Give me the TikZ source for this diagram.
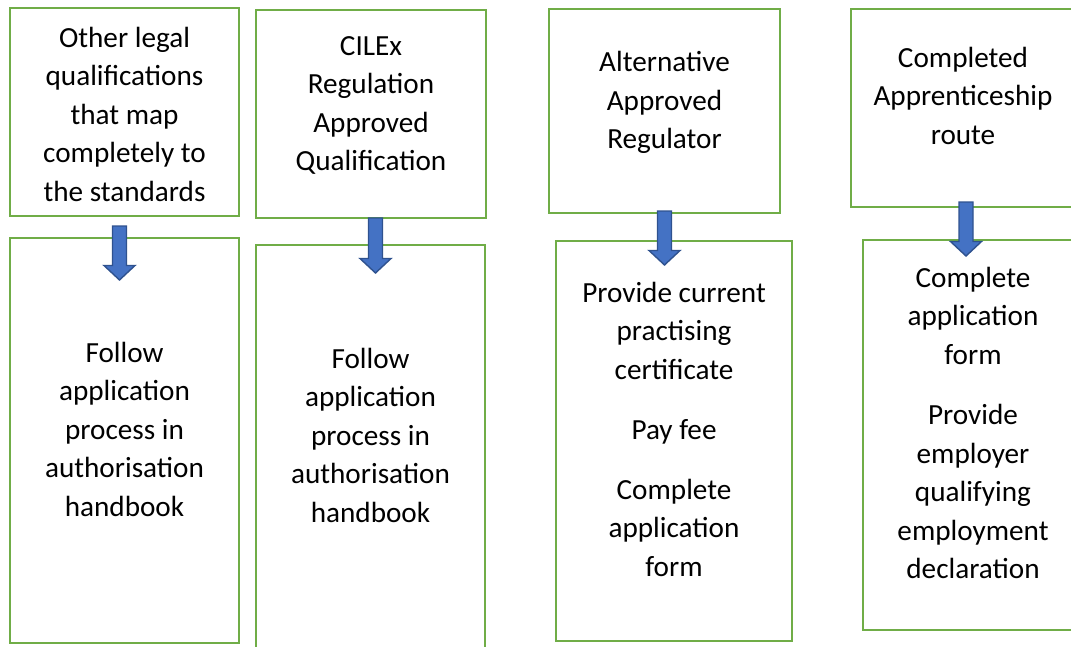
\documentclass[tikz,border=0pt]{standalone}
\usepackage{fontspec}
\setmainfont{Carlito}
\definecolor{boxgreen}{HTML}{70AD47}
\definecolor{arrowblue}{HTML}{4472C4}
\definecolor{arrowedge}{HTML}{2F528F}
\newcommand{\firststrut}{\rule{0pt}{30pt}}
% block arrow: centre x, top y, tip y
\newcommand{\blockarrow}[3]{%
  \draw[barrow] (#1-7,#2) -- (#1+7,#2) -- (#1+7,#3-14.5) -- (#1+15.5,#3-14.5)
    -- (#1,#3) -- (#1-15.5,#3-14.5) -- (#1-7,#3-14.5) -- cycle;}
\tikzset{
  box/.style={draw=boxgreen, line width=2.5pt, fill=white, inner sep=0pt, outer sep=0pt},
  label/.style={anchor=north, align=center, inner sep=0pt, text=black,
    font=\fontsize{29.2pt}{38.5pt}\selectfont},
  barrow/.style={fill=arrowblue, draw=arrowedge, line width=1.4pt, line join=miter}
}
\begin{document}
\begin{tikzpicture}[x=1pt,y=-1pt]
\useasboundingbox (0,0) rectangle (1071,646);
\clip (0,0) rectangle (1071,646);
% boxes
\node[box, minimum width=229pt, minimum height=208pt] (q1) at (124.5,112) {};
\node[box, minimum width=229pt, minimum height=405pt] (p1) at (124.5,440.5) {};
\node[box, minimum width=230pt, minimum height=208pt] (q2) at (371,114) {};
\node[box, minimum width=229pt, minimum height=420pt] (p2) at (370.5,455) {};
\node[box, minimum width=231pt, minimum height=204pt] (q3) at (664.5,111) {};
\node[box, minimum width=236pt, minimum height=400pt] (p3) at (674,441) {};
\node[box, minimum width=224pt, minimum height=198pt] (q4) at (963,108) {};
\node[box, minimum width=220pt, minimum height=390pt] (p4) at (973,435) {};
% texts
\node[label] (tq1) at (124.5,17) {\firststrut Other legal\\qualifications\\that map\\completely to\\the standards};
\node[label] (tq2) at (371,25) {\firststrut CILEx\\Regulation\\Approved\\Qualification};
\node[label] (tq3) at (664.5,41.5) {\firststrut Alternative\\Approved\\Regulator};
\node[label] (tq4) at (963,37) {\firststrut Completed\\Apprenticeship\\route};
\node[label] (tp1) at (124.5,332) {\firststrut Follow\\application\\process in\\authorisation\\handbook};
\node[label] (tp2) at (370.5,338) {\firststrut Follow\\application\\process in\\authorisation\\handbook};
\node[label] (tp3) at (674,272) {\firststrut Provide current\\practising\\certificate\\[21.5pt]Pay fee\\[21.5pt]Complete\\application\\form};
\node[label] (tp4) at (973,257) {\firststrut Complete\\application\\form\\[22pt]Provide\\employer\\qualifying\\employment\\declaration};
% arrows
\blockarrow{119.5}{226}{280}
\blockarrow{375.5}{218}{273}
\blockarrow{664.5}{211}{265}
\blockarrow{966}{202}{256}
\end{tikzpicture}
\end{document}
